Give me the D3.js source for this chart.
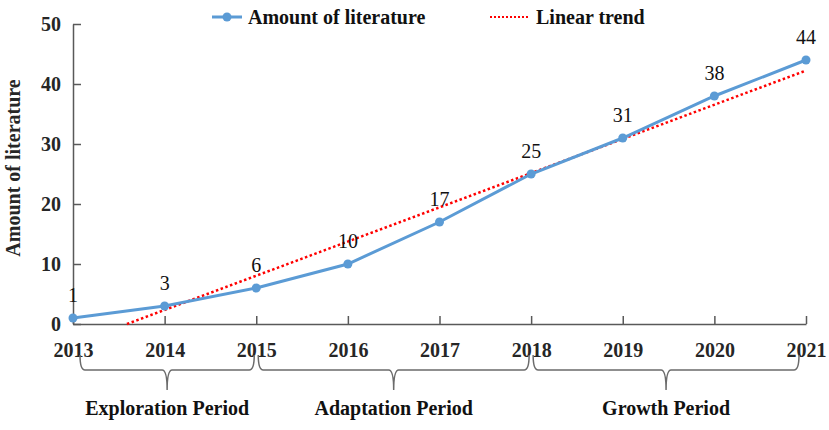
<!DOCTYPE html>
<html>
<head>
<meta charset="utf-8">
<script src="https://cdn.jsdelivr.net/npm/d3@7"></script>
<style>
  body { margin: 0; background: #fff; }
  svg { display: block; }
  text { font-family: "Liberation Serif", "Times New Roman", serif; }
</style>
</head>
<body>
<svg id="chart" width="829" height="430"></svg>
<script>
const years = [2013, 2014, 2015, 2016, 2017, 2018, 2019, 2020, 2021];
const amounts = [1, 3, 6, 10, 17, 25, 31, 38, 44];
const yTicks = [0, 10, 20, 30, 40, 50];
const periodNames = ["Exploration Period", "Adaptation Period", "Growth Period"];
const periodStarts = [2013, 2015, 2018];
const periodEnds = [2015, 2018, 2021];

const svg = d3.select("#chart");
const blue = "#5b9bd5";
const red = "#ff0000";
const axisColor = "#595959";
const fs = "20px";

const x = d3.scaleLinear().domain([2013, 2021]).range([73, 806]);
const y = d3.scaleLinear().domain([0, 50]).range([324, 24]);

// axes with inside ticks
const yAxis = svg.append("g")
    .attr("transform", `translate(${x(2013)},0)`)
    .call(d3.axisLeft(y).tickValues(yTicks).tickSizeInner(-8).tickSizeOuter(0).tickPadding(12));
const xAxis = svg.append("g")
    .attr("transform", `translate(0,${y(0)})`)
    .call(d3.axisBottom(x).tickValues(years).tickFormat(d3.format("d"))
        .tickSizeInner(-8).tickSizeOuter(0).tickPadding(19));

[yAxis, xAxis].forEach(g => {
    g.select(".domain").attr("stroke", axisColor).attr("stroke-width", 1.5);
    g.selectAll(".tick line").attr("stroke", axisColor).attr("stroke-width", 1.5);
    g.selectAll(".tick text")
        .attr("fill", "#262626")
        .style("font-size", fs)
        .style("font-weight", "bold");
});

svg.append("text")
    .attr("transform", "translate(20,168) rotate(-90)")
    .attr("text-anchor", "middle")
    .style("font-size", fs)
    .style("font-weight", "bold")
    .attr("fill", "#262626")
    .text("Amount of literature");

// linear trend (least squares on the series), clipped at y = 0
const mx = d3.mean(years), my = d3.mean(amounts);
const slope = d3.sum(years, (v, i) => (v - mx) * (amounts[i] - my)) / d3.sum(years, v => (v - mx) ** 2);
const icpt = my - slope * mx;
const xZero = -icpt / slope;
const xStart = Math.max(2013, xZero);
const trendPts = [[xStart, icpt + slope * xStart], [2021, icpt + slope * 2021]];

svg.append("path")
    .datum(trendPts)
    .attr("fill", "none")
    .attr("stroke", red)
    .attr("stroke-width", 2.5)
    .attr("stroke-dasharray", "2.5,2.5")
    .attr("d", d3.line().x(d => x(d[0])).y(d => y(d[1])));

// main series
const series = years.map((yr, i) => ({ yr, v: amounts[i] }));
svg.append("path")
    .datum(series)
    .attr("fill", "none")
    .attr("stroke", blue)
    .attr("stroke-width", 3)
    .attr("d", d3.line().x(d => x(d.yr)).y(d => y(d.v)));

svg.selectAll("circle.pt")
    .data(series)
    .enter().append("circle")
    .attr("class", "pt")
    .attr("cx", d => x(d.yr))
    .attr("cy", d => y(d.v))
    .attr("r", 4.5)
    .attr("fill", blue);

svg.selectAll("text.lbl")
    .data(series)
    .enter().append("text")
    .attr("class", "lbl")
    .attr("x", d => x(d.yr))
    .attr("y", d => y(d.v) - 16)
    .attr("text-anchor", "middle")
    .style("font-size", fs)
    .attr("fill", "#111")
    .text(d => d.v);

// legend
const leg = svg.append("g");
leg.append("line").attr("x1", 212).attr("x2", 242).attr("y1", 17).attr("y2", 17)
    .attr("stroke", blue).attr("stroke-width", 3);
leg.append("circle").attr("cx", 227).attr("cy", 17).attr("r", 4.5).attr("fill", blue);
leg.append("text").attr("x", 248).attr("y", 24)
    .style("font-size", fs).style("font-weight", "bold").attr("fill", "#111")
    .text("Amount of literature");
leg.append("line").attr("x1", 490).attr("x2", 528).attr("y1", 17).attr("y2", 17)
    .attr("stroke", red).attr("stroke-width", 2).attr("stroke-dasharray", "2,2");
leg.append("text").attr("x", 536).attr("y", 24)
    .style("font-size", fs).style("font-weight", "bold").attr("fill", "#111")
    .text("Linear trend");

// period braces
const braceTop = 355, braceMid = 370, braceTip = 390;
function bracePath(x0, x1) {
    const xm = (x0 + x1) / 2, r = 5;
    return `M${x0},${braceTop} Q${x0},${braceMid} ${x0 + r},${braceMid}` +
        ` L${xm - r},${braceMid} Q${xm},${braceMid} ${xm},${braceTip}` +
        ` Q${xm},${braceMid} ${xm + r},${braceMid}` +
        ` L${x1 - r},${braceMid} Q${x1},${braceMid} ${x1},${braceTop}`;
}
const periods = periodNames.map((name, i) => ({ name, s: periodStarts[i], e: periodEnds[i] }));
const bx0 = (d, i) => x(d.s) + (i === 0 ? 7 : 2);
const bx1 = (d, i) => x(d.e) - (i === periods.length - 1 ? 7 : 2);
svg.selectAll("path.brace")
    .data(periods)
    .enter().append("path")
    .attr("class", "brace")
    .attr("fill", "none")
    .attr("stroke", "#6b6b6b")
    .attr("stroke-width", 1.5)
    .attr("d", (d, i) => bracePath(bx0(d, i), bx1(d, i)));

svg.selectAll("text.period")
    .data(periods)
    .enter().append("text")
    .attr("class", "period")
    .attr("x", (d, i) => (bx0(d, i) + bx1(d, i)) / 2)
    .attr("y", 415)
    .attr("text-anchor", "middle")
    .style("font-size", fs)
    .style("font-weight", "bold")
    .attr("fill", "#111")
    .text(d => d.name);
</script>
</body>
</html>
